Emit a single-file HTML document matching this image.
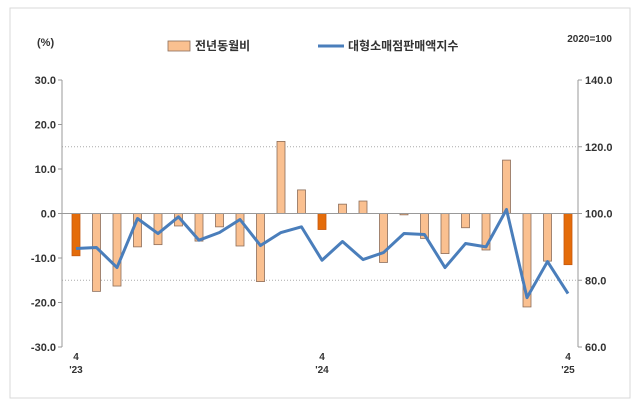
<!DOCTYPE html>
<html><head><meta charset="utf-8"><style>
body{margin:0;background:#fff;font-family:"Liberation Sans","Noto Sans CJK KR",sans-serif;}
svg text{font-family:"Liberation Sans","Noto Sans CJK KR",sans-serif;}
</style></head><body>
<svg width="640" height="405" xmlns="http://www.w3.org/2000/svg">
<rect x="10" y="8" width="620" height="390" fill="#fff" stroke="#d9d9d9"/>
<g id="plot"></g>
</svg>
<script>
const categories=["2023-04","05","06","07","08","09","10","11","12","2024-01","02","03","2024-04","05","06","07","08","09","10","11","12","2025-01","02","03","2025-04"];
const yoy=[-9.5,-17.5,-16.3,-7.5,-7,-2.8,-6.2,-3,-7.3,-15.3,16.2,5.3,-3.6,2.1,2.8,-11,-0.3,-5.6,-9,-3.2,-8.2,12,-21,-10.7,-11.5];
const index=[89.5,89.8,83.8,98.5,94,99,92,94.3,98.2,90.4,94.3,96,86,91.6,86.2,88.3,94,93.7,83.8,91,90,101.2,74.8,85.6,76];
const highlight=[0,12,24];
const leftTicks=["30.0","20.0","10.0","0.0","-10.0","-20.0","-30.0"];
const rightTicks=["140.0","120.0","100.0","80.0","60.0"];
const xLabels=[{i:0,m:"4",y:"'23"},{i:12,m:"4",y:"'24"},{i:24,m:"4",y:"'25"}];
const NS="http://www.w3.org/2000/svg";
const g=document.getElementById('plot');
const L=62,R=578,T=80,B=347;
const yL=v=>T+(30-v)*(B-T)/60;
const yR=v=>T+(140-v)*(B-T)/80;
const xC=i=>76+i*20.5;
function mk(t,a,txt){const e=document.createElementNS(NS,t);for(const k in a)e.setAttribute(k,a[k]);if(txt!==undefined)e.textContent=txt;g.appendChild(e);return e;}
[15,-15].forEach(v=>{const e=mk('line',{x1:L,x2:R,y1:yL(v),y2:yL(v),stroke:'#aaa','stroke-dasharray':'1,2'});

});
let a=mk('line',{x1:L,x2:L,y1:T,y2:B,stroke:'#999'});


a=mk('line',{x1:R,x2:R,y1:T,y2:B,stroke:'#999'});


leftTicks.forEach(t=>{const v=parseFloat(t);const y=yL(v);
mk('line',{x1:L-4,x2:L,y1:y,y2:y,stroke:'#999'});
const e=mk('text',{x:L-6,y:y+4,'text-anchor':'end','font-size':11,'font-weight':'bold',fill:'#333'},t);

});
rightTicks.forEach(t=>{const v=parseFloat(t);const y=yR(v);
mk('line',{x1:R,x2:R+4,y1:y,y2:y,stroke:'#999'});
const e=mk('text',{x:R+7,y:y+4,'font-size':11,'font-weight':'bold',fill:'#333'},t);

});
yoy.forEach((v,i)=>{const y0=yL(0),y1=yL(v);const hi=highlight.includes(i);
const e=mk('rect',{x:xC(i)-4,y:Math.min(y0,y1),width:8,height:Math.max(1,Math.abs(y1-y0)),fill:hi?'#e46c0a':'#fac090',stroke:hi?'#c55a11':'#8c6d5a','stroke-width':0.8});

});
a=mk('line',{x1:L,x2:R,y1:yL(0),y2:yL(0),stroke:'#999'});


const ln=mk('polyline',{points:index.map((v,i)=>xC(i)+','+yR(v)).join(' '),fill:'none',stroke:'#4a7ebb','stroke-width':3,'stroke-linejoin':'round'});


xLabels.forEach(o=>{
let e=mk('text',{x:xC(o.i),y:360,'text-anchor':'middle','font-size':10,'font-weight':'bold',fill:'#333'},o.m);


e=mk('text',{x:xC(o.i),y:373,'text-anchor':'middle','font-size':10,'font-weight':'bold',fill:'#333'},o.y);

});
let e=mk('text',{x:37,y:46,'font-size':11,'font-weight':'bold',fill:'#333'},'(%)');


e=mk('text',{x:612,y:42,'text-anchor':'end','font-size':10,'font-weight':'bold',fill:'#333'},'2020=100');


e=mk('rect',{x:168,y:41,width:22,height:10,fill:'#fac090',stroke:'#8c6d5a','stroke-width':0.8});


e=mk('text',{x:195,y:50,'font-size':12,'font-weight':'bold',fill:'#333'},'전년동월비');


e=mk('line',{x1:318,x2:344,y1:46,y2:46,stroke:'#4a7ebb','stroke-width':3});


e=mk('text',{x:348,y:50,'font-size':12,'font-weight':'bold',fill:'#333'},'대형소매점판매액지수');


</script>
</body></html>
